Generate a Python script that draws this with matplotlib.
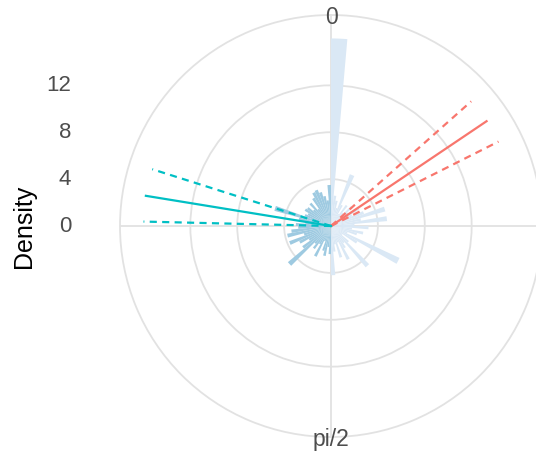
import numpy as np
import matplotlib as mpl

mpl.use('agg')

import matplotlib.pyplot as plt

plt.rcParams['font.family'] = ['Liberation Sans', 'DejaVu Sans']

# density per bin, angle 0 .. pi/2 (light) and pi/2 .. pi (dark), 36 bins each
dens_low = [16.0, 2.6, 2.2, 1.6, 4.7, 2.0, 1.2, 2.2, 1.5, 2.4,
            1.8, 2.8, 2.0, 3.0, 4.8, 2.6, 4.8, 2.0, 3.2, 1.8,
            2.8, 2.3, 1.5, 6.45, 2.6, 1.2, 2.0, 4.6, 1.8, 2.2,
            3.2, 1.5, 2.8, 1.6, 2.2, 4.2]
dens_high = [2.4, 1.8, 2.6, 2.2, 1.4, 2.9, 1.8, 2.4, 2.0, 4.8,
             3.0, 2.2, 3.0, 3.8, 2.4, 3.8, 3.4, 2.8, 3.0, 2.2,
             2.8, 5.0, 2.4, 2.2, 2.6, 2.5, 2.0, 2.6, 1.8, 2.8,
             3.2, 3.3, 3.0, 2.6, 2.2, 3.5]

# mean direction and interval per group (radians)
mean_dir = [0.489, 2.437]
ci_low = [0.422, 2.368]
ci_high = [0.552, 2.510]

y_breaks = [0, 4, 8, 12]
x_breaks = [0, np.pi / 2]
x_labels = ['0', 'pi/2']

line_cols = ['#F8766D', '#00BFC4']
grid_col = '#E2E2E2'

density = dens_low + dens_high
n_bins = len(density)
edges = np.linspace(0, np.pi, n_bins + 1)
bw = edges[1] - edges[0]
bar_cols = ['#DAE8F5'] * len(dens_low) + ['#9ECAE1'] * len(dens_high)
r_top = max(density)
r_lim = r_top * 1.125

fig = plt.figure(figsize=(5.36, 4.54), dpi=100)
ax = fig.add_axes([120 / 536, 17 / 454, 422 / 536, 422 / 454], projection='polar')
ax.set_theta_zero_location('N')
ax.set_theta_direction(-1)
ax.set_ylim(0, r_lim)

# full turn of the plot is pi in data units
ax.bar(2 * edges[:-1], density, width=2 * bw, align='edge', color=bar_cols,
       edgecolor='none', zorder=2)

for m, lo, hi, c in zip(mean_dir, ci_low, ci_high, line_cols):
    ax.plot([2 * m, 2 * m], [0, r_top], color=c, lw=1.6, zorder=3)
    for a in (lo, hi):
        ax.plot([2 * a, 2 * a], [0, r_top], color=c, lw=1.6,
                linestyle=(0, (3.2, 2.4)), zorder=3)

ax.set_xticks(np.deg2rad([0, 90, 180, 270]))
ax.set_xticklabels([])
ax.set_yticks(y_breaks[1:])
ax.set_yticklabels([])
ax.grid(True, color=grid_col, lw=1.3)
ax.spines['polar'].set_color(grid_col)
ax.spines['polar'].set_linewidth(1.3)
ax.tick_params(length=0)

for b, lab in zip(x_breaks, x_labels):
    r = r_lim * (0.99 if b == 0 else 1.01)
    ax.text(2 * b, r, lab, ha='center', va='center', fontsize=16.5,
            color='#4D4D4D', clip_on=False, zorder=5)

fig.canvas.draw()
for v in y_breaks:
    x, y = ax.transData.transform((0, v))
    fig.text(71 / 536, y / fig.bbox.height, str(v), ha='right', va='center',
             fontsize=16, color='#4D4D4D')

fig.text(24 / 536, (454 - 226) / 454, 'Density', rotation=90, ha='center',
         va='center', fontsize=18, color='black')

fig.savefig('out.png', dpi=100)
